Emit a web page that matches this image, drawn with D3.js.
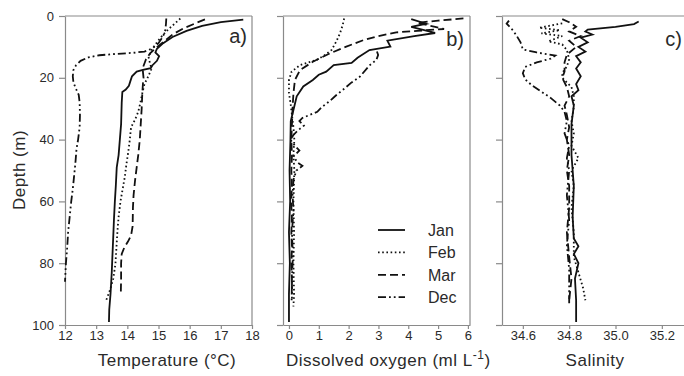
<!DOCTYPE html>
<html>
<head>
<meta charset="utf-8">
<title>Depth profiles</title>
<script src="https://cdn.jsdelivr.net/npm/d3@7"></script>
<style>
  body { margin: 0; background: #fff; }
  svg { font-family: "Liberation Sans", Arial, sans-serif; }
  .axis path, .axis line { stroke: #8a8a8a; stroke-width: 1.2; }
  .axis text { fill: #2a2a2a; font-size: 13px; }
  .frame { stroke: #8a8a8a; stroke-width: 1.2; }
  .profile { fill: none; stroke: #111; stroke-width: 1.8; }
  .title { fill: #2a2a2a; font-size: 17px; letter-spacing: 0.5px; }
</style>
</head>
<body>
<script>
// values, each point is [value, depth in m]
const months = ["Jan", "Feb", "Mar", "Dec"];
const depthTicks = [0, 20, 40, 60, 80, 100];
const tempTicks = [12, 13, 14, 15, 16, 17, 18];
const oxyTicks = [0, 1, 2, 3, 4, 5, 6];
const salTicks = [34.6, 34.8, 35.0, 35.2];

const tempJan = [[17.72,1.2],[17.0,2.0],[16.4,3.2],[15.9,4.8],[15.45,6.8],[15.15,8.8],[14.95,10.6],[14.9,11.8],[15.02,13],[14.95,14.5],[14.8,16],[14.75,16.9],[14.5,17.4],[14.3,18],[14.15,19.5],[14.1,21],[14.05,22.6],[13.95,23.8],[13.84,24.6],[13.82,28],[13.8,35],[13.76,40],[13.72,45],[13.66,49],[13.63,55],[13.6,60],[13.57,66],[13.55,71],[13.52,78],[13.5,83],[13.46,90],[13.42,95],[13.41,99]];
const tempFeb = [[15.7,0.8],[15.55,2.2],[15.35,4],[15.15,6],[14.95,8.5],[14.78,11],[14.68,13.2],[14.73,15.5],[14.78,17],[14.67,19.6],[14.55,22],[14.48,25],[14.42,28],[14.35,31],[14.25,33.5],[14.12,36],[14.08,40],[14.03,44],[13.97,48],[13.92,52],[13.85,56],[13.78,60],[13.72,65],[13.68,70],[13.65,75],[13.62,80],[13.55,85],[13.45,88.5],[13.36,91],[13.32,92]];
const tempMar = [[16.49,1.1],[16.2,2.3],[15.8,4],[15.45,6],[15.15,8.5],[14.9,10.5],[14.73,12.1],[14.6,14],[14.51,16.4],[14.5,18],[14.52,20],[14.5,22],[14.48,25],[14.46,30],[14.43,35],[14.4,40],[14.35,45],[14.3,49],[14.25,53],[14.2,58],[14.18,62],[14.17,68],[14.12,71],[14.02,73],[13.9,75],[13.82,77],[13.8,80],[13.8,85],[13.79,90.3]];
const tempDec = [[15.25,0.8],[15.24,2.5],[15.22,4.5],[15.15,6.5],[15.0,8.8],[14.8,10.5],[14.55,11.5],[14.2,11.9],[13.6,12.3],[13.1,12.7],[12.75,13.4],[12.5,14.5],[12.35,16],[12.27,17.5],[12.25,19.5],[12.27,21.5],[12.35,23.5],[12.44,25.5],[12.47,28],[12.48,32],[12.47,36],[12.42,40],[12.37,43],[12.33,48],[12.29,52],[12.25,56],[12.2,60],[12.15,65],[12.1,70],[12.07,75],[12.03,80],[12.0,86]];

const oxyJan = [[4.1,1],[4.6,2.5],[4.1,3.5],[4.9,5.5],[4.2,6.5],[3.3,8],[3.4,9.9],[2.7,11],[2.3,13.5],[2.1,15.2],[1.5,15.9],[1.25,18],[1.0,19],[0.8,20.7],[0.48,22.8],[0.26,26],[0.15,30.4],[0.06,34],[0.05,40],[0.02,50],[0.04,60],[0.0,70],[0.03,80],[0.0,90],[0.0,99]];
const oxyFeb = [[1.85,0.8],[1.8,3],[1.71,5.6],[1.6,8],[1.43,11],[1.15,13],[0.93,14.2],[0.6,15.2],[0.37,15.9],[0.09,18],[0.0,20.7],[0.0,25],[0.05,28],[0.1,32],[0.15,36],[0.18,40],[0.15,45],[0.18,50],[0.15,60],[0.17,70],[0.15,80],[0.17,90],[0.15,94]];
const oxyMar = [[5.85,0.8],[5.0,1.5],[4.3,2.2],[4.9,3.5],[5.2,4.2],[4.3,4.8],[3.6,5.3],[3.0,6.5],[2.5,7.8],[1.9,10],[1.37,12.1],[0.8,14.8],[0.37,17.5],[0.2,20.7],[0.15,25],[0.12,30],[0.1,35],[0.08,40],[0.1,45],[0.08,50],[0.1,55],[0.07,60],[0.1,65],[0.08,70],[0.1,75],[0.08,80],[0.1,85],[0.09,92]];
const oxyDec = [[2.95,11.5],[2.99,12.6],[2.93,14.2],[2.7,16],[2.38,19.6],[2.1,21.5],[1.87,23.4],[1.6,25.5],[1.37,27.5],[1.1,29.5],[0.95,31],[0.7,32],[0.45,33],[0.35,34],[0.5,35.5],[0.3,37],[0.15,38.5],[0.05,40],[0.2,42],[0.35,43.5],[0.15,45.5],[0.3,47.5],[0.45,48.5],[0.25,50],[0.15,53],[0.12,58],[0.15,63],[0.1,70],[0.13,78],[0.1,85],[0.1,92]];

const salJan = [[35.1,1.8],[35.08,2.6],[35.0,3.5],[34.88,4.4],[34.87,5],[34.9,6],[34.85,7],[34.88,8.5],[34.84,10],[34.87,11.5],[34.83,13],[34.85,15],[34.83,17],[34.85,19.5],[34.83,22],[34.84,24],[34.81,26],[34.82,29],[34.81,35],[34.81,45],[34.82,55],[34.815,65],[34.82,72],[34.84,74.5],[34.82,77],[34.84,80],[34.825,85],[34.83,92],[34.83,99]];
const salFeb = [[34.77,2.4],[34.67,3.8],[34.76,4.6],[34.68,5.6],[34.77,6.5],[34.71,8.2],[34.77,9.2],[34.79,11],[34.8,14],[34.79,16.3],[34.77,18.5],[34.77,20],[34.81,23],[34.82,26],[34.82,29.5],[34.81,34],[34.82,38],[34.81,42],[34.84,46],[34.81,50],[34.82,55],[34.81,62],[34.82,70],[34.82,78],[34.84,83],[34.86,88],[34.87,92]];
const salMar = [[34.77,1],[34.8,2],[34.83,3.5],[34.8,5],[34.85,6.5],[34.8,8],[34.83,10],[34.79,12.5],[34.78,15],[34.78,18],[34.77,20],[34.79,23],[34.8,26],[34.78,29],[34.79,32],[34.8,36],[34.79,40],[34.8,45],[34.79,50],[34.8,55],[34.8,62],[34.79,70],[34.8,78],[34.81,85],[34.8,92]];
const salDec = [[34.54,1.5],[34.53,2.5],[34.55,4],[34.57,6],[34.59,8.5],[34.6,10.8],[34.66,11.8],[34.74,12.8],[34.72,13.8],[34.66,15],[34.61,16.5],[34.6,18.5],[34.61,20.5],[34.64,22.5],[34.68,24.5],[34.72,26.5],[34.76,29],[34.78,31],[34.79,34],[34.78,38],[34.8,42],[34.79,46],[34.8,50],[34.79,58],[34.8,66],[34.79,74],[34.8,82],[34.8,88],[34.8,93]];

const dash = { Jan: null, Feb: "1.6,2.6", Mar: "8,4", Dec: "8,3,1.8,3,1.8,3" };

const W = 684, H = 376;
const svg = d3.select("body").append("svg").attr("width", W).attr("height", H);

const y = d3.scaleLinear().domain([0, 100]).range([16, 325]);

const panels = [
  { key: "a)", dom: [12, 18], range: [65, 252], ticks: tempTicks, fmt: d3.format("d"), series: [tempJan, tempFeb, tempMar, tempDec], yLabels: true, lx: 247, ly: 43 },
  { key: "b)", dom: [-0.2, 6.07], range: [283, 470], ticks: oxyTicks, fmt: d3.format("d"), series: [oxyJan, oxyFeb, oxyMar, oxyDec], yLabels: false, lx: 464, ly: 46 },
  { key: "c)", dom: [34.51, 35.3], range: [502, 685], ticks: salTicks, fmt: d3.format(".1f"), series: [salJan, salFeb, salMar, salDec], yLabels: false, lx: 682, ly: 46 }
];

panels.forEach(p => {
  const x = d3.scaleLinear().domain(p.dom).range(p.range);
  const g = svg.append("g");

  // top and right edges of the box
  g.append("line").attr("class", "frame")
    .attr("x1", p.range[0]).attr("x2", p.range[1]).attr("y1", y(0)).attr("y2", y(0));
  g.append("line").attr("class", "frame")
    .attr("x1", p.range[1]).attr("x2", p.range[1]).attr("y1", y(0)).attr("y2", y(100));

  const yAxis = d3.axisLeft(y).tickValues(depthTicks).tickSize(6).tickSizeOuter(0).tickPadding(5);
  if (!p.yLabels) yAxis.tickFormat(() => "");
  g.append("g").attr("class", "axis")
    .attr("transform", "translate(" + p.range[0] + ",0)")
    .call(yAxis);

  g.append("g").attr("class", "axis")
    .attr("transform", "translate(0," + y(100) + ")")
    .call(d3.axisBottom(x).tickValues(p.ticks).tickFormat(p.fmt).tickSize(4).tickSizeOuter(0).tickPadding(2));

  g.selectAll(".axis text").attr("font-family", null);
  g.selectAll(".axis").attr("font-family", null).attr("font-size", null);

  const line = d3.line().x(d => x(d[0])).y(d => y(d[1]));
  p.series.forEach((s, i) => {
    g.append("path").attr("class", "profile")
      .attr("d", line(s))
      .attr("stroke-dasharray", dash[months[i]]);
  });

  g.append("text").attr("class", "title")
    .attr("x", p.lx).attr("y", p.ly)
    .attr("text-anchor", "end")
    .style("font-size", "20px").style("letter-spacing", "0px")
    .text(p.key);
});

// axis titles
svg.append("text").attr("class", "title")
  .attr("transform", "translate(25,170) rotate(-90)")
  .attr("text-anchor", "middle")
  .text("Depth (m)");

svg.append("text").attr("class", "title")
  .attr("x", 167).attr("y", 366).attr("text-anchor", "middle")
  .text("Temperature (°C)");

const oxyTitle = svg.append("text").attr("class", "title")
  .attr("x", 286).attr("y", 366);
oxyTitle.append("tspan").text("Dissolved oxygen (ml L");
oxyTitle.append("tspan").attr("dy", -7).style("font-size", "12px").text("-1");
oxyTitle.append("tspan").attr("dy", 7).text(")");

svg.append("text").attr("class", "title")
  .attr("x", 595).attr("y", 366).attr("text-anchor", "middle")
  .text("Salinity");

// legend inside panel b
const legend = svg.append("g");
months.forEach((m, i) => {
  const ly = 230 + i * 22.4;
  legend.append("line").attr("class", "profile")
    .attr("x1", 378).attr("x2", 405).attr("y1", ly).attr("y2", ly)
    .attr("stroke-dasharray", dash[m]);
  legend.append("text").attr("class", "title")
    .attr("x", 428).attr("y", ly).attr("dy", "0.36em")
    .style("font-size", "16px").style("letter-spacing", "0px")
    .text(m);
});
</script>
</body>
</html>
